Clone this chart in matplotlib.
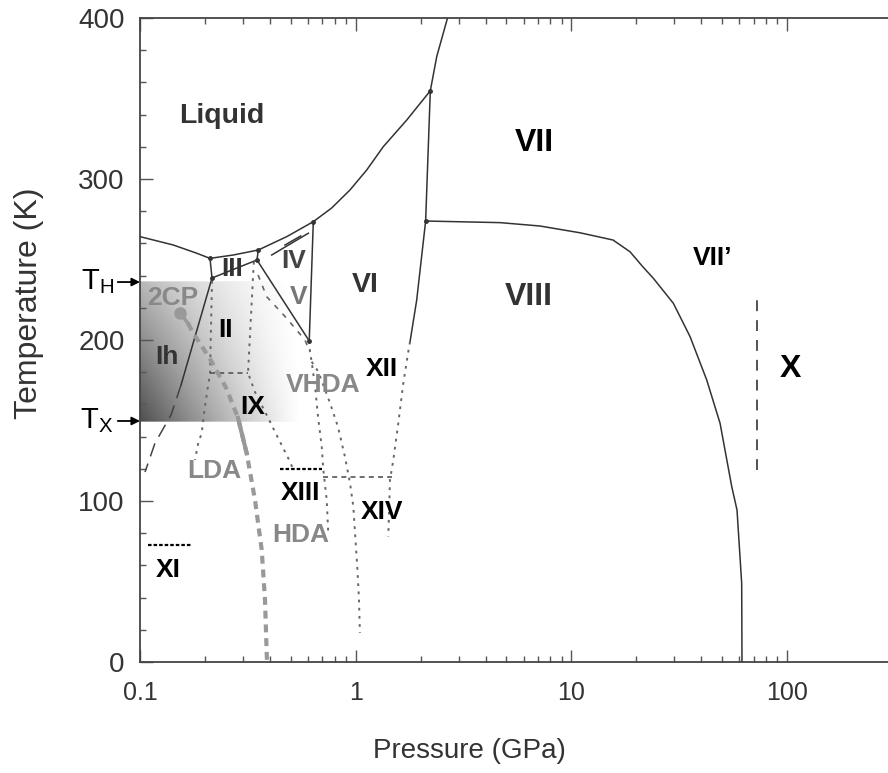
import numpy as np
import matplotlib
matplotlib.use('Agg')
import matplotlib.pyplot as plt
from matplotlib.ticker import FixedLocator, NullFormatter

plt.rcParams['font.family'] = ['Liberation Sans', 'DejaVu Sans']

# ---- data (pressure in GPa, temperature in K) ----
liq_ih_p = [0.1, 0.1427, 0.1832, 0.2111]
liq_ih_t = [264.2, 259.0, 253.9, 250.7]
liq_iii_p = [0.2111, 0.2708, 0.3535]
liq_iii_t = [250.7, 252.8, 255.9]
liq_v_p = [0.3535, 0.479, 0.636]
liq_v_t = [255.9, 264.2, 273.5]
liq_vi_p = [0.636, 0.774, 0.941, 1.125, 1.343, 1.724, 2.218]
liq_vi_t = [273.5, 282.0, 293.2, 305.6, 320.1, 336.6, 354.8]
liq_vii_p = [2.218, 2.375, 2.67, 2.73]
liq_vii_t = [354.8, 376.0, 400.4, 405.0]
ih_iii_p = [0.2111, 0.2157]
ih_iii_t = [250.7, 238.5]
iii_ii_p = [0.2157, 0.3486]
iii_ii_t = [238.5, 249.7]
iii_v_p = [0.3535, 0.3486]
iii_v_t = [255.9, 249.7]
ii_v_p = [0.3486, 0.609]
ii_v_t = [249.7, 199.4]
v_vi_p = [0.636, 0.609]
v_vi_t = [273.5, 199.4]
vi_vii_p = [2.218, 2.11]
vi_vii_t = [354.8, 273.9]
vi_viii_p = [2.11, 1.918, 1.786]
vi_viii_t = [273.9, 224.8, 198.9]
vii_viii_p = [2.11, 4.67, 7.15, 10.96, 15.6, 18.7, 21.5, 24.0, 29.7, 35.5, 42.4, 48.9, 55.4, 58.6, 61.6, 61.8]
vii_viii_t = [273.9, 272.9, 270.8, 266.6, 262.1, 254.8, 245.3, 238.3, 222.8, 202.1, 175.2, 148.3, 108.9, 94.4, 48.9, 0]
ih_ii_p = [0.2157, 0.1549]
ih_ii_t = [238.5, 172.0]
ih_ii_meta_p = [0.1549, 0.1392, 0.1174, 0.1055]
ih_ii_meta_t = [172.0, 153.4, 136.0, 118.0]
iv_p = [0.408, 0.603]
iv_t = [252.8, 266.3]
iv2_p = [0.470, 0.556]
iv2_t = [259.0, 264.6]
triple_p = [0.2111, 0.2157, 0.3535, 0.3486, 0.636, 0.609, 2.218, 2.11]
triple_t = [250.7, 238.5, 255.9, 249.7, 273.5, 199.4, 354.8, 273.9]

# metastable / amorphous boundaries
lda_p = [0.2157, 0.2111, 0.1999, 0.1932, 0.1863, 0.1798]
lda_t = [236.7, 179.5, 158.4, 142.2, 136.0, 125.5]
ix_p = [0.337, 0.3168, 0.3413, 0.3934, 0.4376, 0.487, 0.5136]
ix_t = [248.5, 179.5, 167.7, 151.4, 138.9, 126.5, 119.7]
hda_l_p = [0.609, 0.614, 0.625, 0.648, 0.669, 0.696, 0.708, 0.734, 0.746]
hda_l_t = [199.4, 192.5, 186.5, 171.0, 152.4, 133.7, 119.3, 100.6, 80.1]
hda_r_p = [0.625, 0.671, 0.760, 0.828, 0.892, 0.941, 0.975, 0.993, 1.017, 1.036, 1.046]
hda_r_t = [186.5, 180.3, 160.9, 146.0, 127.3, 111.2, 96.5, 80.1, 59.2, 38.5, 18.0]
xii_p = [1.786, 1.753, 1.662, 1.576, 1.494, 1.442, 1.416]
xii_t = [198.9, 192.7, 173.1, 148.3, 125.5, 113.0, 77.8]
v_meta_p = [0.3526, 0.3867, 0.4786, 0.582, 0.614]
v_meta_t = [240.4, 226.9, 213.5, 200.0, 192.5]
ii_ix_p = [0.2111, 0.3168]
ii_ix_t = [179.3, 179.3]
xiv_p = [0.708, 1.469]
xiv_t = [115.1, 115.1]
xi_p = [0.1093, 0.1737]
xi_t = [72.7, 72.7]
xiii_p = [0.4457, 0.698]
xiii_t = [119.7, 119.7]
x_p = [72.6, 72.6]
x_t = [119.0, 230.0]

# liquid-liquid line from the second critical point
cp2_p, cp2_t = 0.1533, 216.6
ll_p = [0.1669, 0.1766, 0.2104, 0.2513, 0.2847, 0.3124, 0.3413, 0.3667, 0.3798, 0.3867, 0.388]
ll_t = [210.4, 204.2, 188.6, 170.0, 151.6, 129.6, 100.6, 69.6, 38.5, 5.4, 0.0]

T_H = 236.0
T_X = 149.7

x_ticks = [0.1, 1, 10, 100]
x_ticklabels = ['0.1', '1', '10', '100']
y_ticks = [0, 100, 200, 300, 400]

fig = plt.figure(figsize=(8.88, 7.73), dpi=100)
ax = fig.add_axes([140 / 888, 111 / 773, 748 / 888, 644 / 773])
ax.set_xscale('log')
ax.set_xlim(0.1, 293.7)
ax.set_ylim(0, 400)

# shaded box between T_X and T_H
g_right = 0.553
gx = np.logspace(-1, np.log10(g_right), 200)
gy = np.linspace(T_X, T_H, 80)
u = (np.log10(gx) + 1) / (np.log10(g_right) + 1)
v = (gy - T_X) / (T_H - T_X)
U, V = np.meshgrid(u, v)
D = (1 - U) ** (1.15 + 0.45 * V) * (0.28 + 0.41 * (1 - V))
ax.pcolormesh(gx, gy, 1 - D, cmap='gray', vmin=0, vmax=1, shading='gouraud', zorder=0)

solid = dict(color='#333333', lw=1.1, zorder=3)
for p, t in [(liq_ih_p, liq_ih_t), (liq_iii_p, liq_iii_t), (liq_v_p, liq_v_t),
             (liq_vi_p, liq_vi_t), (liq_vii_p, liq_vii_t), (ih_iii_p, ih_iii_t),
             (iii_ii_p, iii_ii_t), (iii_v_p, iii_v_t), (ii_v_p, ii_v_t),
             (v_vi_p, v_vi_t), (vi_vii_p, vi_vii_t), (vi_viii_p, vi_viii_t),
             (vii_viii_p, vii_viii_t), (ih_ii_p, ih_ii_t), (iv_p, iv_t), (iv2_p, iv2_t)]:
    ax.plot(p, t, **solid)
ax.plot(triple_p, triple_t, 'o', color='#333333', ms=2.5, zorder=4)
ax.plot(ih_ii_meta_p, ih_ii_meta_t, color='#444444', lw=1.1, dashes=(9, 5), zorder=3)

dotted = dict(color='#666666', lw=1.4, dashes=(1.4, 2.8), zorder=3)
for p, t in [(lda_p, lda_t), (ix_p, ix_t), (hda_l_p, hda_l_t), (hda_r_p, hda_r_t), (xii_p, xii_t)]:
    ax.plot(p, t, **dotted)
ax.plot(v_meta_p, v_meta_t, color='#666666', lw=1.2, dashes=(3, 4), zorder=3)
ax.plot(ii_ix_p, ii_ix_t, color='#555555', lw=1.2, dashes=(3, 2.5), zorder=3)
ax.plot(xiv_p, xiv_t, color='#555555', lw=1.2, dashes=(3, 2.5), zorder=3)
ax.plot(xi_p, xi_t, color='black', lw=1.6, dashes=(1.6, 0.9), zorder=3)
ax.plot(xiii_p, xiii_t, color='black', lw=1.6, dashes=(1.6, 0.9), zorder=3)
ax.plot(x_p, x_t, color='#444444', lw=1.3, dashes=(6, 5), zorder=3)

# 2CP and liquid-liquid line
ax.plot([cp2_p, ll_p[0]], [cp2_t, ll_t[0]], color='#999999', lw=2.5, zorder=4)
ax.plot(cp2_p, cp2_t, 'o', color='#999999', ms=8, zorder=4)
ax.plot(ll_p, ll_t, color='#999999', lw=3, dashes=(1.9, 1.4), zorder=4)
ax.plot(ll_p[4:6], ll_t[4:6], color='#999999', lw=3, zorder=4)

labels = [
    ('Liquid', 0.240, 339.1, '#333333', 20.5), ('VII', 6.71, 322.4, 'black', 23),
    ('VII\u2019', 44.9, 250.9, 'black', 19), ('VIII', 6.36, 226.7, '#333333', 23),
    ('X', 103.1, 182.0, 'black', 23), ('VI', 1.104, 234.2, '#333333', 20.5),
    ('IV', 0.514, 249.1, '#444444', 19), ('V', 0.542, 226.7, '#777777', 19),
    ('III', 0.266, 244.1, '#333333', 19), ('II', 0.2486, 206.2, 'black', 19),
    ('Ih', 0.1334, 189.4, '#333333', 19), ('2CP', 0.1422, 226.1, '#888888', 19),
    ('IX', 0.3341, 158.4, 'black', 19), ('VHDA', 0.705, 172.0, '#888888', 19),
    ('XII', 1.328, 182.0, 'black', 19), ('LDA', 0.2211, 118.8, '#888888', 19),
    ('XIII', 0.552, 105.0, 'black', 19), ('HDA', 0.558, 78.9, '#888888', 19),
    ('XIV', 1.328, 93.0, 'black', 19), ('XI', 0.1353, 57.1, 'black', 19),
]
for s, p, t, c, fs in labels:
    ax.text(p, t, s, color=c, fontsize=fs, fontweight='bold', ha='center', va='center', zorder=5)

for s, t in [(r'$\mathregular{T_H}$', T_H), (r'$\mathregular{T_X}$', T_X)]:
    ax.annotate(s, xy=(0, t), xycoords=('axes fraction', 'data'), xytext=(-19, 0),
                textcoords='offset points', ha='right', va='center', fontsize=21,
                annotation_clip=False,
                arrowprops=dict(arrowstyle='-|>', color='black', lw=1.3,
                                mutation_scale=12, shrinkA=1, shrinkB=0))

ax.xaxis.set_major_locator(FixedLocator(x_ticks))
ax.xaxis.set_minor_locator(FixedLocator([k * 10.0 ** e for e in (-1, 0, 1) for k in range(2, 10)]))
ax.xaxis.set_minor_formatter(NullFormatter())
ax.set_xticklabels(x_ticklabels)
ax.yaxis.set_major_locator(FixedLocator(y_ticks))
ax.yaxis.set_minor_locator(FixedLocator(np.arange(0, 401, 20)))
ax.tick_params(which='both', direction='in', top=True, right=False, color='#555555', width=1)
ax.tick_params(which='major', length=9)
ax.tick_params(which='minor', length=4.5)
ax.tick_params(axis='x', labelsize=18, pad=14, labelcolor='#333333')
ax.tick_params(axis='y', labelsize=20, pad=11, labelcolor='#333333')
for side in ['left', 'bottom', 'top']:
    ax.spines[side].set_color('#444444')
    ax.spines[side].set_linewidth(1.3)
ax.spines['right'].set_visible(False)

fig.text(469 / 888, 1 - 751 / 773, 'Pressure (GPa)', fontsize=20, color='#333333', ha='center', va='center')
fig.text(29 / 888, 1 - 303 / 773, 'Temperature (K)', fontsize=23, color='#333333', ha='center', va='center', rotation=90)

fig.savefig('out.png', dpi=100)
